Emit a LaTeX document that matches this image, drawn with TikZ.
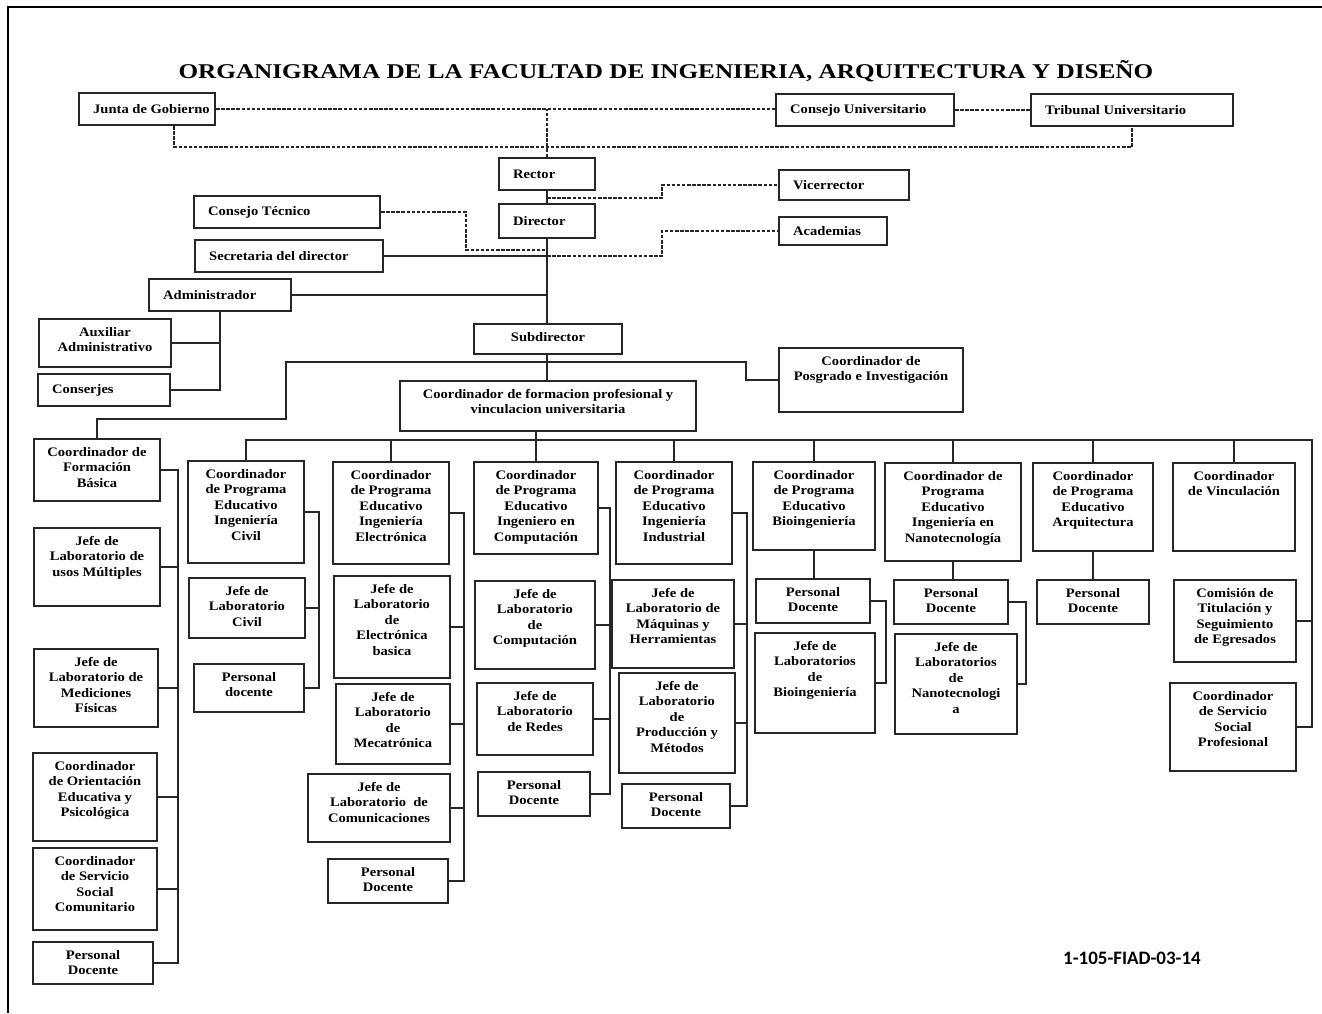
\documentclass[tikz,border=0pt]{standalone}
\usepackage{fontspec}
\setmainfont{Liberation Serif}[FakeStretch=1.12]
\newfontfamily\titlefont{Liberation Serif}[FakeStretch=1.2]
\newfontfamily\codefont{Carlito}
\newcommand{\boxfont}{\fontsize{13}{15.5}\selectfont\bfseries}

\begin{document}
\begin{tikzpicture}[x=1pt, y=-1pt,
  unit/.style={draw=black!85, line width=2pt, inner sep=0pt, anchor=north west},
  unittext/.style={font=\boxfont, align=center, inner sep=0pt},
  link/.style={draw=black!85, line width=2pt},
  dashlink/.style={link, dash pattern=on 3.5pt off 1.6pt}]
\useasboundingbox (0,0) rectangle (1322,1013);

% frame and title
\draw[line width=2.8pt] (8,1013) -- (8,7) -- (1322,7);
\node[font={\titlefont\fontsize{21}{25}\selectfont\bfseries}, inner sep=0pt] (title) at (666,71)
  {ORGANIGRAMA DE LA FACULTAD DE INGENIERIA, ARQUITECTURA Y DISEÑO};

% boxes, text at the left
\foreach \n/\xa/\ya/\xb/\yb/\txt in {
  junta/78/92/214/124/{Junta de Gobierno},
  cuniv/775/93/953/125/{Consejo Universitario},
  tribunal/1030/93/1232/125/{Tribunal Universitario},
  rector/498/157/594/189/{Rector},
  director/498/203/594/237/{Director},
  vicerrector/778/169/908/199/{Vicerrector},
  academias/778/216/886/244/{Academias},
  ctecnico/193/195/379/227/{Consejo Técnico},
  secretaria/194/239/382/271/{Secretaria del director},
  admin/148/278/290/310/{Administrador},
  conserjes/37/373/169/405/{Conserjes}}
{
  \pgfmathsetmacro\w{\xb-\xa}
  \pgfmathsetmacro\h{\yb-\ya}
  \node[unit, minimum width=\w pt, minimum height=\h pt] (\n) at (\xa,\ya) {};
  \node[unittext, anchor=west] (\n-t) at ([xshift=15pt]\n.west) {\txt};
}

% boxes, text centred at the top
\foreach \n/\xa/\ya/\xb/\yb/\txt in {
  auxiliar/38/318/170/366/{Auxiliar\\Administrativo},
  subdirector/473/323/621/353/{Subdirector},
  cfp/399/380/695/430/{Coordinador de formacion profesional y\\vinculacion universitaria},
  posgrado/778/347/962/411/{Coordinador de\\Posgrado e Investigación},
  fbasica/33/438/159/500/{Coordinador de\\Formación\\Básica},
  lmultiples/33/527/159/605/{Jefe de\\Laboratorio de\\usos Múltiples},
  lmediciones/33/648/157/726/{Jefe de\\Laboratorio de\\Mediciones\\Físicas},
  orientacion/32/752/156/840/{Coordinador\\de Orientación\\Educativa y\\Psicológica},
  sscomunitario/32/847/156/929/{Coordinador\\de Servicio\\Social\\Comunitario},
  pdbasica/32/941/152/983/{Personal\\Docente},
  civil/187/460/303/562/{Coordinador\\de Programa\\Educativo\\Ingeniería\\Civil},
  lcivil/188/577/304/637/{Jefe de\\Laboratorio\\Civil},
  pdcivil/193/663/303/711/{Personal\\docente},
  electronica/332/461/448/563/{Coordinador\\de Programa\\Educativo\\Ingeniería\\Electrónica},
  lelectronica/333/575/449/677/{Jefe de\\Laboratorio\\de\\Electrónica\\basica},
  lmecatronica/335/683/449/763/{Jefe de\\Laboratorio\\de\\Mecatrónica},
  lcomunicaciones/307/773/449/841/{Jefe de\\Laboratorio\ \ de\\Comunicaciones},
  pdelectronica/327/858/447/902/{Personal\\Docente},
  computacion/473/461/597/553/{Coordinador\\de Programa\\Educativo\\Ingeniero en\\Computación},
  lcomputacion/474/580/594/668/{Jefe de\\Laboratorio\\de\\Computación},
  lredes/476/682/592/754/{Jefe de\\Laboratorio\\de Redes},
  pdcomputacion/477/771/589/815/{Personal\\Docente},
  industrial/615/461/731/563/{Coordinador\\de Programa\\Educativo\\Ingeniería\\Industrial},
  lmaquinas/611/579/733/667/{Jefe de\\Laboratorio de\\Máquinas y\\Herramientas},
  lproduccion/618/672/734/772/{Jefe de\\Laboratorio\\de\\Producción y\\Métodos},
  pdindustrial/621/783/729/827/{Personal\\Docente},
  bio/752/461/874/549/{Coordinador\\de Programa\\Educativo\\Bioingeniería},
  pdbio/755/578/869/622/{Personal\\Docente},
  lbio/754/632/874/732/{Jefe de\\Laboratorios\\de\\Bioingeniería},
  nano/884/462/1020/560/{Coordinador de\\Programa\\Educativo\\Ingeniería en\\Nanotecnología},
  pdnano/893/579/1007/623/{Personal\\Docente},
  lnano/894/633/1016/733/{Jefe de\\Laboratorios\\de\\Nanotecnologi\\a},
  arq/1032/462/1152/550/{Coordinador\\de Programa\\Educativo\\Arquitectura},
  pdarq/1036/579/1148/623/{Personal\\Docente},
  vinculacion/1172/462/1294/550/{Coordinador\\de Vinculación},
  titulacion/1173/579/1295/661/{Comisión de\\Titulación y\\Seguimiento\\de Egresados},
  ssprofesional/1169/682/1295/770/{Coordinador\\de Servicio\\Social\\Profesional}}
{
  \pgfmathsetmacro\w{\xb-\xa}
  \pgfmathsetmacro\h{\yb-\ya}
  \node[unit, minimum width=\w pt, minimum height=\h pt] (\n) at (\xa,\ya) {};
  \node[unittext, anchor=north] (\n-t) at ([yshift=-9pt]\n.north) {\txt};
}

% dashed links at the top
\draw[dashlink] (junta.east) -- (junta.east -| cuniv.west);
\draw[dashlink] (cuniv.east) -- (tribunal.west);
\draw[dashlink] ([xshift=27pt]junta.south) -- ++(0,21) -| (tribunal.south);
\draw[dashlink] (rector.north) -- (rector.north |- junta.east);
\draw[dashlink] ([yshift=-7pt]rector.south) -| ([xshift=-116pt]vicerrector.west) -- (vicerrector.west);
\draw[dashlink] (secretaria.east -| director.south) -| ([xshift=-116pt]academias.west) -- (academias.west);
\draw[dashlink] (ctecnico.east) -- ++(85,0) |- ([yshift=-11pt]director.south);

% solid links
\draw[link] (rector.south) -- (director.north);
\draw[link] (director.south) -- (subdirector.north -| director.south);
\draw[link] (subdirector.south -| director.south) -- (cfp.north -| director.south);
\draw[link] (secretaria.east) -- (secretaria.east -| director.south);
\draw[link] (admin.east) -- (admin.east -| director.south);
\draw[link] (admin.south) |- (conserjes.east);
\draw[link] (auxiliar.east) -- (auxiliar.east -| admin.south);
\coordinate (branchL) at (286,419);
\coordinate (branchR) at (746,362);
\draw[link] (fbasica.north) |- (branchL) |- (branchR) |- (posgrado.west);

% main bus
\coordinate (busR) at (1312,440);
\draw[link] (civil.north) |- (busR) |- (ssprofesional.east);
\draw[link] (titulacion.east) -- (titulacion.east -| busR);
\draw[link] (cfp.south -| computacion.north) -- (computacion.north);
\foreach \n in {electronica,industrial,bio,nano,arq,vinculacion}
  \draw[link] (\n.north) -- (\n.north |- busR);

% columns
\foreach \first/\last/\dx/\mids in {
  fbasica/pdbasica/17/{lmultiples,lmediciones,orientacion,sscomunitario},
  civil/pdcivil/14/{lcivil},
  electronica/pdelectronica/14/{lelectronica,lmecatronica,lcomunicaciones},
  computacion/pdcomputacion/11/{lcomputacion,lredes},
  industrial/pdindustrial/14/{lmaquinas,lproduccion}}
{
  \coordinate (sp) at ([xshift=\dx pt]\first.east);
  \draw[link] (\first.east) -- (sp) |- (\last.east);
  \foreach \m in \mids \draw[link] (\m.east) -- (\m.east -| sp);
}
\foreach \n/\p in {bio/pdbio,nano/pdnano,arq/pdarq}
  \draw[link] (\n.south) -- (\n.south |- \p.north);
\draw[link] (pdbio.east) -- ++(15,0) |- (lbio.east);
\draw[link] (pdnano.east) -- ++(17,0) |- (lnano.east);

\node[font={\codefont\fontsize{19}{22}\selectfont\bfseries}, anchor=west, inner sep=0pt] (code) at (1063,958) {1-105-FIAD-03-14};
\end{tikzpicture}
\end{document}
